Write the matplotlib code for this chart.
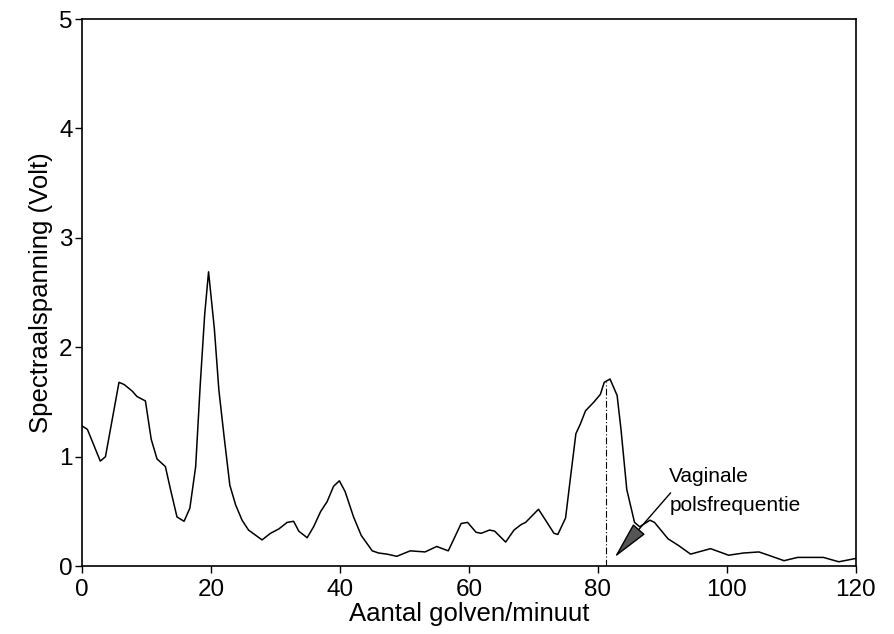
import matplotlib
matplotlib.use("Agg")
import matplotlib.pyplot as plt

plt.rcParams['font.family'] = ['Liberation Sans', 'DejaVu Sans']

# spectrum
golven = [0, 0.8, 2.8, 3.6, 5.7, 6.5, 7.75, 8.5, 9.8, 10.7, 11.6, 12.9, 13.7,
          14.7, 15.8, 16.7, 17.6, 18.3, 19.0, 19.6, 20.5, 21.2, 22.0, 22.9,
          23.8, 24.8, 25.8, 27.9, 29.2, 30.5, 31.8, 32.8, 33.6, 34.9, 35.9,
          37.0, 38.0, 39.0, 39.9, 40.8, 42.1, 43.3, 45.0, 46.0, 47.3, 48.8,
          50.9, 53.2, 55.0, 56.8, 58.8, 59.8, 61.1, 61.9, 63.2, 64.0, 65.7,
          67.0, 68.1, 68.8, 70.8, 71.9, 73.2, 73.8, 75.0, 75.7, 76.6, 77.3,
          78.1, 79.4, 80.4, 81.0, 81.9, 83.0, 83.6, 84.5, 85.7, 86.5, 88.1,
          88.8, 90.9, 92.5, 94.4, 97.5, 100.3, 102.6, 105.0, 106.5, 108.9,
          111.0, 115.0, 117.4, 120]
spanning = [1.28, 1.25, 0.96, 1.00, 1.68, 1.66, 1.60, 1.55, 1.51, 1.16, 0.98,
            0.91, 0.70, 0.45, 0.41, 0.53, 0.91, 1.65, 2.30, 2.69, 2.17, 1.61,
            1.19, 0.74, 0.56, 0.42, 0.33, 0.24, 0.30, 0.34, 0.40, 0.41, 0.32,
            0.26, 0.36, 0.50, 0.59, 0.73, 0.78, 0.68, 0.45, 0.28, 0.14, 0.12,
            0.11, 0.09, 0.14, 0.13, 0.18, 0.14, 0.39, 0.40, 0.31, 0.30, 0.33,
            0.32, 0.22, 0.33, 0.38, 0.40, 0.52, 0.42, 0.30, 0.29, 0.44, 0.78,
            1.21, 1.30, 1.42, 1.50, 1.57, 1.68, 1.71, 1.56, 1.25, 0.70, 0.40,
            0.36, 0.42, 0.40, 0.25, 0.19, 0.11, 0.16, 0.10, 0.12, 0.13, 0.10,
            0.05, 0.08, 0.08, 0.04, 0.07]

piek_x = 81.3
piek_y = 1.68

fig = plt.figure(figsize=(8.94, 6.34), dpi=100)
ax = fig.add_axes([0.092, 0.107, 0.865, 0.863])

ax.plot(golven, spanning, color='black', linewidth=1.1)
ax.plot([piek_x, piek_x], [0, piek_y], color='black', linewidth=0.8,
        linestyle=(0, (6, 2, 1, 2)))

# annotation
ax.text(91.0, 0.77, 'Vaginale', fontsize=15, ha='left', va='baseline')
ax.text(91.1, 0.50, 'polsfrequentie', fontsize=15, ha='left', va='baseline')
ax.annotate('', xy=(82.6, 0.08), xytext=(91.3, 0.67),
            arrowprops=dict(arrowstyle='-|>,head_length=1.2,head_width=0.25',
                            mutation_scale=20, facecolor='#555555',
                            edgecolor='black', linewidth=1.0,
                            shrinkA=0, shrinkB=0))

ax.set_xlim(0, 120)
ax.set_ylim(0, 5)
ax.set_xticks([0, 20, 40, 60, 80, 100, 120])
ax.set_yticks([0, 1, 2, 3, 4, 5])
ax.tick_params(direction='out', length=5, width=1, labelsize=17.5, pad=2)
ax.tick_params(axis='x', pad=4)
for s in ax.spines.values():
    s.set_linewidth(1.2)

ax.set_xlabel('Aantal golven/minuut', fontsize=18.5, labelpad=1)
ax.set_ylabel('Spectraalspanning (Volt)', fontsize=18.5, labelpad=4)

fig.savefig('out.png', dpi=100)
